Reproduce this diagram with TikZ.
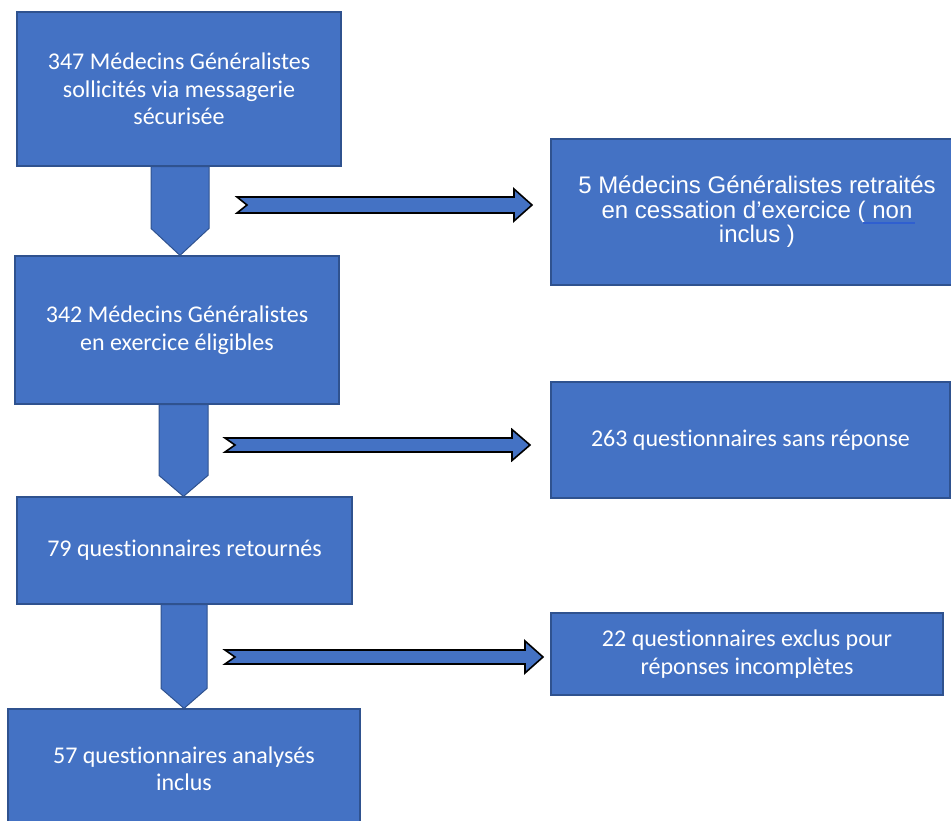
\documentclass[tikz,border=0pt]{standalone}
\usepackage{fontspec}
\setmainfont{Carlito}[Ligatures=NoCommon]
\newfontfamily\arialfont{Liberation Sans}
\usetikzlibrary{calc}
\definecolor{officeblue}{HTML}{4472C4}
\definecolor{officeedge}{HTML}{2F528F}
\definecolor{linkblue}{HTML}{2F5FD0}
\tikzset{
  flowbox/.style={draw=officeedge, line width=1.2pt, fill=officeblue, text=white,
    align=center, inner sep=0pt, font=\fontsize{24}{27.5}\selectfont},
  downarrow/.style={draw=officeedge, line width=1pt, fill=officeblue},
  sidearrow/.style={draw=black, line width=1.6pt, fill=officeblue, line join=miter}
}
% #1 upper box, #2 lower box, #3 half width, #4 head length, #5 x offset
\newcommand{\flowdown}[5]{%
  \draw[downarrow] let \p1=(#1.south), \p2=(#2.north) in
    (\x2+#5pt-#3pt,\y1) -- (\x2+#5pt+#3pt,\y1) -- (\x2+#5pt+#3pt,\y2+#4pt)
    -- (\x2+#5pt,\y2) -- (\x2+#5pt-#3pt,\y2+#4pt) -- cycle;}
% #1 tail, #2 tip, #3 half shaft, #4 half head
\newcommand{\flowright}[4]{%
  \draw[sidearrow] let \p1=(#1), \p2=(#2) in
    (\x1,\y1+#3pt) -- (\x2-18pt,\y1+#3pt) -- (\x2-18pt,\y1+#4pt) -- (\x2,\y1)
    -- (\x2-18pt,\y1-#4pt) -- (\x2-18pt,\y1-#3pt) -- (\x1,\y1-#3pt)
    -- (\x1+10pt,\y1) -- cycle;}
\begin{document}
\begin{tikzpicture}[x=1pt,y=-1pt]
  \useasboundingbox (0,0) rectangle (951,821);
  \clip (0,0) rectangle (951,821);

  % main column
  \node[flowbox, minimum width=324, minimum height=154] (b347) at (179,89)
    {347 Médecins Généralistes\\sollicités via messagerie\\sécurisée};
  \node[flowbox, minimum width=324, minimum height=148] (b342) at (177,330)
    {342 Médecins Généralistes\\en exercice éligibles};
  \node[flowbox, minimum width=335, minimum height=107] (b79) at (184.5,550.5)
    {79 questionnaires retournés};
  \node[flowbox, minimum width=352, minimum height=120] (b57) at (184,769)
    {57 questionnaires analysés\\inclus};

  % side boxes
  \node[flowbox, minimum width=412, minimum height=146,
    font=\arialfont\fontsize{24}{24.5}\selectfont] (r5) at (757,212)
    {5 Médecins Généralistes retraités\\en cessation d’exercice ( non\\inclus )};
  \node[flowbox, minimum width=399, minimum height=116] (r263) at (750.5,440)
    {263 questionnaires sans réponse};
  \node[flowbox, minimum width=392, minimum height=82] (r22) at (747,654)
    {22 questionnaires exclus pour\\réponses incomplètes};
  \draw[linkblue, line width=1.2pt] (863,223) -- (915,223);

  % down arrows
  \flowdown{b347}{b342}{29}{27}{3}
  \flowdown{b342}{b79}{24.5}{21}{-1}
  \flowdown{b79}{b57}{23}{20}{0}

  % side arrows
  \coordinate (t1) at (237,205);
  \coordinate (h1) at (532,205);
  \coordinate (t2) at (225,445);
  \coordinate (h2) at (530,445);
  \coordinate (t3) at (225,657);
  \coordinate (h3) at (543,657);
  \flowright{t1}{h1}{8}{16}
  \flowright{t2}{h2}{7}{15.5}
  \flowright{t3}{h3}{7}{16}
\end{tikzpicture}
\end{document}
